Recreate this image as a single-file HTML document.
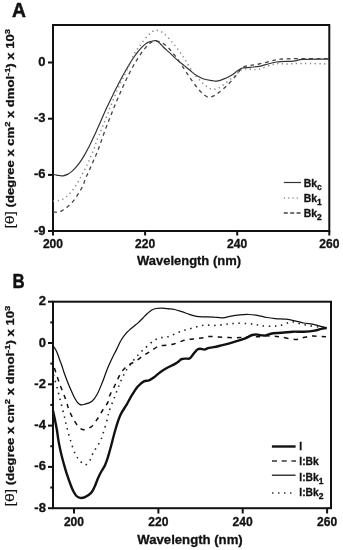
<!DOCTYPE html>
<html><head><meta charset="utf-8"><title>CD spectra</title>
<style>
html,body{margin:0;padding:0;background:#fff;}
body{width:343px;height:550px;overflow:hidden;font-family:"Liberation Sans", sans-serif;}
svg{display:block;will-change:transform;}
</style></head><body>
<svg width="343" height="550" viewBox="0 0 343 550">
<g font-family='"Liberation Sans", sans-serif' fill="#111">
<text x="12" y="17.4" font-size="19.3" font-weight="bold" stroke="#111" stroke-width="0.5">A</text>
<text transform="translate(12.4 287.8) scale(0.85 1)" x="0" y="0" font-size="19.8" font-weight="bold" stroke="#111" stroke-width="0.5">B</text>
<g stroke="#111" stroke-width="2" fill="none">
<rect x="53" y="25" width="276.3" height="206"/>
<line x1="48" y1="62.5" x2="53" y2="62.5"/>
<line x1="48" y1="118.7" x2="53" y2="118.7"/>
<line x1="48" y1="174.9" x2="53" y2="174.9"/>
<line x1="48" y1="231" x2="53" y2="231"/>
<line x1="53" y1="231" x2="53" y2="235.5"/>
<line x1="145.1" y1="231" x2="145.1" y2="235.5"/>
<line x1="237.2" y1="231" x2="237.2" y2="235.5"/>
<line x1="329.3" y1="231" x2="329.3" y2="235.5"/>
</g>
<text x="45.6" y="66.0" font-size="13" font-weight="bold" text-anchor="end" stroke="#111" stroke-width="0.3" paint-order="stroke">0</text>
<text x="45.6" y="122.2" font-size="13" font-weight="bold" text-anchor="end" stroke="#111" stroke-width="0.3" paint-order="stroke">-3</text>
<text x="45.6" y="178.4" font-size="13" font-weight="bold" text-anchor="end" stroke="#111" stroke-width="0.3" paint-order="stroke">-6</text>
<text x="45.6" y="234.5" font-size="13" font-weight="bold" text-anchor="end" stroke="#111" stroke-width="0.3" paint-order="stroke">-9</text>
<text x="53" y="248" font-size="13" font-weight="bold" text-anchor="middle" textLength="20.2" lengthAdjust="spacingAndGlyphs" stroke="#111" stroke-width="0.3" paint-order="stroke">200</text>
<text x="145.1" y="248" font-size="13" font-weight="bold" text-anchor="middle" textLength="20.2" lengthAdjust="spacingAndGlyphs" stroke="#111" stroke-width="0.3" paint-order="stroke">220</text>
<text x="237.2" y="248" font-size="13" font-weight="bold" text-anchor="middle" textLength="20.2" lengthAdjust="spacingAndGlyphs" stroke="#111" stroke-width="0.3" paint-order="stroke">240</text>
<text x="329.3" y="248" font-size="13" font-weight="bold" text-anchor="middle" textLength="20.2" lengthAdjust="spacingAndGlyphs" stroke="#111" stroke-width="0.3" paint-order="stroke">260</text>
<text x="189" y="265.2" font-size="12.8" font-weight="bold" text-anchor="middle" textLength="104" lengthAdjust="spacingAndGlyphs" stroke="#111" stroke-width="0.3" paint-order="stroke">Wavelength (nm)</text>
<text transform="translate(14.3 128.8) rotate(-90)" text-anchor="middle" font-size="11.2" font-weight="bold" textLength="199.5" lengthAdjust="spacingAndGlyphs" stroke="#111" stroke-width="0.3" paint-order="stroke"><tspan font-weight="normal" stroke-width="0.15" font-size="13.5">[&#952;]</tspan> (degree x cm<tspan font-size="8" dy="-4">2</tspan><tspan dy="4"> x dmol</tspan><tspan font-size="8" dy="-4">-1</tspan><tspan dy="4">) x 10</tspan><tspan font-size="8" dy="-4">3</tspan></text>
<g stroke="#111" stroke-width="2" fill="none">
<rect x="53" y="301.7" width="278" height="206.5"/>
<line x1="48" y1="301.7" x2="53" y2="301.7"/>
<line x1="50.3" y1="322.4" x2="53" y2="322.4"/>
<line x1="48" y1="343.0" x2="53" y2="343.0"/>
<line x1="50.3" y1="363.6" x2="53" y2="363.6"/>
<line x1="48" y1="384.3" x2="53" y2="384.3"/>
<line x1="50.3" y1="404.9" x2="53" y2="404.9"/>
<line x1="48" y1="425.6" x2="53" y2="425.6"/>
<line x1="50.3" y1="446.2" x2="53" y2="446.2"/>
<line x1="48" y1="466.9" x2="53" y2="466.9"/>
<line x1="50.3" y1="487.5" x2="53" y2="487.5"/>
<line x1="48" y1="508.2" x2="53" y2="508.2"/>
<line x1="74.0" y1="508.2" x2="74.0" y2="513.5"/>
<line x1="158.4" y1="508.2" x2="158.4" y2="513.5"/>
<line x1="242.7" y1="508.2" x2="242.7" y2="513.5"/>
<line x1="327.1" y1="508.2" x2="327.1" y2="513.5"/>
</g>
<text x="45.9" y="305.2" font-size="13" font-weight="bold" text-anchor="end" stroke="#111" stroke-width="0.3" paint-order="stroke">2</text>
<text x="45.9" y="346.5" font-size="13" font-weight="bold" text-anchor="end" stroke="#111" stroke-width="0.3" paint-order="stroke">0</text>
<text x="45.9" y="387.8" font-size="13" font-weight="bold" text-anchor="end" stroke="#111" stroke-width="0.3" paint-order="stroke">-2</text>
<text x="45.9" y="429.1" font-size="13" font-weight="bold" text-anchor="end" stroke="#111" stroke-width="0.3" paint-order="stroke">-4</text>
<text x="45.9" y="470.4" font-size="13" font-weight="bold" text-anchor="end" stroke="#111" stroke-width="0.3" paint-order="stroke">-6</text>
<text x="45.9" y="511.7" font-size="13" font-weight="bold" text-anchor="end" stroke="#111" stroke-width="0.3" paint-order="stroke">-8</text>
<text x="74.0" y="526.2" font-size="13" font-weight="bold" text-anchor="middle" textLength="20.2" lengthAdjust="spacingAndGlyphs" stroke="#111" stroke-width="0.3" paint-order="stroke">200</text>
<text x="158.4" y="526.2" font-size="13" font-weight="bold" text-anchor="middle" textLength="20.2" lengthAdjust="spacingAndGlyphs" stroke="#111" stroke-width="0.3" paint-order="stroke">220</text>
<text x="242.7" y="526.2" font-size="13" font-weight="bold" text-anchor="middle" textLength="20.2" lengthAdjust="spacingAndGlyphs" stroke="#111" stroke-width="0.3" paint-order="stroke">240</text>
<text x="327.1" y="526.2" font-size="13" font-weight="bold" text-anchor="middle" textLength="20.2" lengthAdjust="spacingAndGlyphs" stroke="#111" stroke-width="0.3" paint-order="stroke">260</text>
<text x="190" y="543.9" font-size="12.8" font-weight="bold" text-anchor="middle" textLength="105.5" lengthAdjust="spacingAndGlyphs" stroke="#111" stroke-width="0.3" paint-order="stroke">Wavelength (nm)</text>
<text transform="translate(14.3 406.1) rotate(-90)" text-anchor="middle" font-size="11.2" font-weight="bold" textLength="200.8" lengthAdjust="spacingAndGlyphs" stroke="#111" stroke-width="0.3" paint-order="stroke"><tspan font-weight="normal" stroke-width="0.15" font-size="13.5">[&#952;]</tspan> (degree x cm<tspan font-size="8" dy="-4">2</tspan><tspan dy="4"> x dmol</tspan><tspan font-size="8" dy="-4">-1</tspan><tspan dy="4">) x 10</tspan><tspan font-size="8" dy="-4">3</tspan></text>
<path d="M53.0 174.0 C53.5 174.2 55.0 174.8 56.0 175.0 C57.0 175.2 57.8 175.4 59.0 175.5 C60.2 175.6 61.6 176.0 63.0 175.8 C64.4 175.6 66.0 175.1 67.4 174.4 C68.8 173.7 70.2 172.8 71.6 171.6 C73.0 170.4 74.6 168.7 76.0 167.1 C77.4 165.5 78.7 164.0 80.0 162.1 C81.3 160.2 82.7 158.2 84.0 155.9 C85.3 153.7 86.7 151.2 88.0 148.6 C89.3 146.0 90.7 143.3 92.0 140.5 C93.3 137.7 94.7 134.8 96.0 131.9 C97.3 129.0 98.5 126.4 100.0 123.0 C101.5 119.6 103.5 114.8 105.0 111.5 C106.5 108.2 107.7 105.8 109.0 103.0 C110.3 100.2 111.7 97.4 113.0 94.7 C114.3 92.0 115.7 89.3 117.0 86.7 C118.3 84.1 119.7 81.5 121.0 79.0 C122.3 76.5 123.7 74.0 125.0 71.7 C126.3 69.4 127.7 67.1 129.0 64.9 C130.3 62.7 131.7 60.5 133.0 58.5 C134.3 56.5 135.7 54.6 137.0 52.9 C138.3 51.2 139.7 49.5 141.0 48.1 C142.3 46.7 143.8 45.4 145.0 44.4 C146.2 43.4 146.8 43.0 148.0 42.4 C149.2 41.8 151.2 41.3 152.5 41.0 C153.8 40.7 154.8 40.5 155.8 40.7 C156.8 40.9 157.6 41.5 158.6 42.2 C159.6 43.0 160.8 44.3 161.7 45.2 C162.6 46.1 162.7 46.6 164.0 47.8 C165.3 49.0 167.8 51.1 169.5 52.6 C171.2 54.1 172.4 55.5 173.9 56.9 C175.4 58.3 176.6 59.5 178.3 60.9 C180.0 62.3 182.2 64.0 184.2 65.6 C186.1 67.1 188.2 68.7 190.0 70.2 C191.8 71.7 192.7 73.1 195.0 74.6 C197.3 76.1 200.8 78.0 203.7 79.0 C206.6 80.0 210.3 80.4 212.5 80.7 C214.7 81.0 215.1 81.4 217.0 81.1 C218.9 80.8 221.7 79.9 224.0 78.9 C226.3 78.0 228.7 76.8 231.0 75.4 C233.3 74.0 236.1 71.8 238.0 70.6 C239.9 69.4 240.4 68.5 242.4 68.0 C244.4 67.5 247.4 67.6 250.2 67.3 C253.0 67.0 256.5 66.8 259.0 66.4 C261.5 66.0 262.1 65.6 265.0 64.9 C267.9 64.2 271.7 62.6 276.4 62.0 C281.1 61.4 289.0 61.5 293.4 61.1 C297.8 60.7 297.0 59.7 302.9 59.4 C308.8 59.1 324.6 59.2 329.0 59.2" fill="none" stroke="#333" stroke-width="1.2"/>
<path d="M53.0 201.2 C53.9 201.1 56.9 200.9 58.5 200.6 C60.1 200.2 61.5 199.8 62.9 199.1 C64.3 198.4 65.5 197.6 66.8 196.5 C68.1 195.4 69.5 193.9 70.7 192.6 C71.9 191.3 72.8 190.0 73.8 188.5 C74.8 187.0 76.1 185.3 77.0 183.8 C77.9 182.3 78.6 181.0 79.4 179.6 C80.2 178.2 80.9 176.8 81.6 175.4 C82.3 174.1 83.0 172.9 83.7 171.5 C84.4 170.1 85.2 168.5 85.9 167.1 C86.6 165.7 87.2 164.6 87.9 163.2 C88.6 161.8 89.3 160.3 89.9 158.8 C90.5 157.3 91.0 155.8 91.6 154.4 C92.2 153.0 92.8 151.9 93.4 150.5 C94.0 149.1 94.6 147.6 95.1 146.1 C95.6 144.6 95.6 143.9 96.4 141.7 C97.2 139.5 98.7 136.1 100.0 133.0 C101.3 129.9 102.7 126.3 104.0 123.0 C105.3 119.7 106.7 116.3 108.0 113.0 C109.3 109.7 110.5 106.8 112.0 103.0 C113.5 99.2 115.5 94.0 117.2 90.0 C119.0 86.0 120.5 83.1 122.5 79.0 C124.5 74.9 127.0 69.8 129.0 65.5 C131.0 61.2 132.9 56.3 134.5 53.3 C136.1 50.3 137.2 49.5 138.5 47.6 C139.8 45.7 141.0 43.9 142.5 42.0 C144.0 40.1 146.0 37.6 147.5 36.0 C149.0 34.4 150.2 33.1 151.5 32.2 C152.8 31.3 154.2 30.6 155.5 30.4 C156.8 30.2 158.1 30.4 159.5 31.0 C160.9 31.6 162.2 32.0 164.2 33.7 C166.2 35.4 168.9 38.5 171.4 41.4 C173.9 44.3 176.7 47.6 179.2 51.0 C181.7 54.4 183.9 57.9 186.2 61.5 C188.5 65.2 190.9 69.7 193.2 72.9 C195.5 76.1 197.9 78.4 200.2 80.7 C202.5 83.0 205.1 85.4 207.2 86.8 C209.2 88.2 210.6 89.1 212.5 89.3 C214.4 89.5 216.2 89.3 218.7 88.0 C221.2 86.7 224.6 83.8 227.5 81.5 C230.4 79.2 233.7 76.5 236.2 74.5 C238.7 72.5 240.1 70.1 242.4 69.2 C244.7 68.3 247.4 69.2 250.2 69.2 C253.0 69.2 254.9 70.1 259.0 69.2 C263.1 68.3 269.7 64.9 274.5 64.0 C279.3 63.1 283.0 64.1 287.7 64.0 C292.4 63.9 296.0 63.4 302.9 63.4 C309.8 63.4 324.6 63.9 329.0 64.0" fill="none" stroke="#888" stroke-width="1.5" stroke-dasharray="1.3 3.4" />
<path d="M53.0 212.1 C54.0 212.1 57.0 212.3 58.7 212.0 C60.4 211.7 61.5 210.9 63.0 210.0 C64.5 209.1 66.0 208.1 67.5 206.8 C69.0 205.6 70.5 204.1 72.0 202.5 C73.5 200.9 74.9 199.1 76.2 197.2 C77.5 195.3 78.8 193.0 80.0 191.0 C81.2 189.0 82.3 187.1 83.2 185.0 C84.1 182.9 84.6 180.7 85.5 178.5 C86.4 176.3 87.6 174.2 88.6 171.9 C89.6 169.6 90.6 167.2 91.6 164.9 C92.6 162.6 93.7 160.2 94.7 157.9 C95.7 155.6 96.8 153.3 97.7 150.9 C98.7 148.5 99.2 146.9 100.4 143.5 C101.6 140.1 103.6 134.3 105.0 130.4 C106.4 126.5 107.7 123.5 109.0 120.1 C110.3 116.7 111.7 113.3 113.0 110.0 C114.3 106.7 115.7 103.5 117.0 100.3 C118.3 97.1 119.7 94.0 121.0 91.0 C122.3 88.0 123.7 85.0 125.0 82.2 C126.3 79.4 127.7 76.6 129.0 74.0 C130.3 71.4 131.7 68.9 133.0 66.5 C134.3 64.1 135.7 61.9 137.0 59.7 C138.3 57.6 139.7 55.5 141.0 53.6 C142.3 51.7 143.7 49.9 145.0 48.3 C146.3 46.7 147.8 45.0 149.0 43.9 C150.2 42.8 150.9 42.3 152.0 41.8 C153.1 41.3 154.4 41.1 155.5 41.0 C156.6 40.9 157.6 41.2 158.5 41.4 C159.4 41.6 160.2 41.9 161.0 42.3 C161.8 42.7 162.5 42.9 163.4 43.6 C164.3 44.3 165.6 45.3 166.7 46.3 C167.8 47.3 168.8 48.3 169.9 49.5 C171.0 50.7 171.7 51.7 173.0 53.3 C174.3 54.9 175.6 56.2 177.5 58.9 C179.4 61.6 182.5 66.4 184.5 69.5 C186.5 72.6 187.9 74.6 189.7 77.3 C191.5 80.0 193.6 83.0 195.5 85.5 C197.4 88.0 199.2 90.3 201.3 92.3 C203.4 94.2 206.0 96.7 208.3 97.2 C210.6 97.7 213.3 96.1 215.2 95.2 C217.1 94.3 217.4 93.7 219.5 92.0 C221.6 90.3 224.7 87.8 227.5 85.0 C230.3 82.2 233.7 78.3 236.2 75.4 C238.7 72.5 240.1 69.2 242.4 67.5 C244.7 65.8 247.4 66.0 250.2 65.4 C253.0 64.8 255.6 64.7 259.0 64.0 C262.4 63.3 267.2 61.9 270.7 61.1 C274.2 60.3 275.5 59.6 280.2 59.2 C284.9 58.8 290.9 58.7 299.0 58.6 C307.1 58.5 324.0 58.6 329.0 58.6" fill="none" stroke="#444" stroke-width="1.3" stroke-dasharray="3.8 3.6"/>
<path d="M53.0 346.0 C53.3 346.4 54.3 347.4 55.0 348.5 C55.7 349.6 56.2 350.7 57.0 352.5 C57.8 354.3 58.8 357.2 59.6 359.5 C60.4 361.8 61.2 363.7 62.0 366.0 C62.8 368.3 63.2 370.2 64.4 373.5 C65.6 376.8 67.5 382.0 69.2 386.0 C70.9 390.0 72.8 394.6 74.5 397.7 C76.2 400.8 78.0 403.3 79.7 404.4 C81.5 405.5 83.0 404.7 85.0 404.2 C87.0 403.7 90.0 402.9 92.0 401.2 C94.0 399.5 95.5 397.4 97.2 394.2 C99.0 391.0 100.8 386.1 102.5 382.0 C104.2 377.9 105.5 373.3 107.1 369.4 C108.7 365.5 110.4 361.8 112.0 358.5 C113.6 355.2 115.0 352.6 116.5 349.6 C118.0 346.7 119.3 343.4 120.8 340.8 C122.2 338.2 123.7 336.1 125.2 334.3 C126.7 332.5 128.1 331.2 129.6 329.9 C131.1 328.5 132.6 327.4 134.0 326.2 C135.4 325.0 136.9 323.9 138.3 322.6 C139.8 321.3 141.2 319.7 142.7 318.2 C144.2 316.7 145.6 315.1 147.1 313.8 C148.6 312.5 149.9 311.1 151.4 310.2 C152.9 309.3 154.1 308.9 155.8 308.5 C157.5 308.1 159.7 308.0 161.6 308.0 C163.5 308.0 165.1 308.4 167.3 308.6 C169.5 308.9 172.2 309.0 174.6 309.5 C177.0 310.0 179.5 310.9 181.9 311.7 C184.3 312.5 186.8 313.5 189.2 314.3 C191.6 315.1 194.0 315.9 196.4 316.3 C198.8 316.7 200.8 316.7 203.7 316.8 C206.6 316.9 210.6 316.9 213.7 317.1 C216.8 317.3 219.6 318.0 222.5 317.8 C225.4 317.6 228.3 316.6 231.2 316.1 C234.1 315.6 237.1 315.2 240.0 314.9 C242.9 314.6 245.8 314.4 248.7 314.5 C251.6 314.6 254.5 314.9 257.5 315.4 C260.5 315.9 263.6 317.0 266.6 317.5 C269.6 318.0 272.0 318.3 275.3 318.6 C278.6 318.9 282.9 318.8 286.2 319.2 C289.5 319.6 292.1 320.2 295.0 320.8 C297.9 321.4 300.8 322.4 303.7 323.0 C306.6 323.6 309.9 323.6 312.5 324.1 C315.1 324.6 316.6 325.2 319.0 325.8 C321.4 326.4 325.4 327.5 326.7 327.8" fill="none" stroke="#111" stroke-width="1.25"/>
<path d="M53.5 375.0 C54.2 377.6 56.6 385.8 57.9 390.7 C59.2 395.6 60.2 400.0 61.4 404.7 C62.6 409.4 63.9 414.5 64.9 418.7 C65.9 422.9 66.5 425.8 67.5 429.7 C68.5 433.6 69.7 437.9 71.0 442.0 C72.3 446.1 74.0 451.2 75.4 454.2 C76.8 457.2 77.6 458.0 79.2 459.8 C80.8 461.6 83.2 464.9 85.0 465.0 C86.8 465.1 88.7 462.0 90.0 460.2 C91.3 458.4 91.7 455.9 92.6 454.0 C93.5 452.1 94.2 451.3 95.5 449.0 C96.8 446.7 99.2 443.4 100.7 440.2 C102.2 437.0 103.0 433.5 104.2 429.7 C105.4 425.9 106.9 420.6 107.7 417.5 C108.5 414.4 108.1 414.3 109.2 411.0 C110.3 407.7 112.6 402.2 114.3 397.8 C116.0 393.4 117.7 388.6 119.4 384.5 C121.1 380.4 123.0 376.2 124.5 373.3 C126.0 370.4 127.0 369.2 128.6 367.0 C130.2 364.8 132.1 362.2 133.8 360.0 C135.5 357.8 137.3 355.8 139.0 354.0 C140.7 352.2 142.3 350.7 144.1 349.0 C145.9 347.3 148.0 345.4 149.9 343.8 C151.8 342.2 153.8 340.5 155.7 339.5 C157.6 338.5 159.6 338.0 161.5 337.6 C163.4 337.2 165.5 337.5 167.4 337.0 C169.3 336.5 171.3 335.5 173.1 334.7 C174.9 333.9 176.5 333.1 178.2 332.4 C179.9 331.7 181.6 331.1 183.3 330.6 C185.0 330.1 186.6 329.7 188.4 329.2 C190.2 328.7 192.4 327.9 194.3 327.4 C196.2 326.9 198.2 326.4 200.1 326.0 C202.0 325.6 203.3 325.2 205.9 325.1 C208.5 325.0 211.9 325.6 215.5 325.4 C219.1 325.2 224.2 324.5 227.7 324.1 C231.2 323.8 233.3 323.4 236.5 323.3 C239.7 323.2 243.8 323.4 247.0 323.6 C250.2 323.8 253.1 324.1 255.7 324.5 C258.3 324.9 259.8 325.6 262.7 325.9 C265.6 326.2 269.9 326.3 273.1 326.2 C276.3 326.1 278.8 325.8 281.9 325.1 C285.0 324.4 288.4 322.1 291.7 321.9 C295.0 321.7 298.0 323.4 301.5 324.1 C305.0 324.8 309.2 325.7 312.5 326.2 C315.8 326.7 318.8 327.0 321.2 327.3 C323.6 327.6 325.8 327.9 326.7 328.0" fill="none" stroke="#222" stroke-width="1.6" stroke-dasharray="1.5 4.6" />
<path d="M54.4 368.0 C55.3 370.6 57.7 378.4 59.6 383.7 C61.5 388.9 64.1 395.0 65.7 399.5 C67.3 404.0 67.7 406.9 69.2 410.5 C70.7 414.1 72.8 418.1 74.5 421.0 C76.2 423.9 78.0 426.6 79.7 428.0 C81.5 429.4 83.0 430.0 85.0 429.7 C87.0 429.4 90.0 427.9 92.0 426.2 C94.0 424.4 95.5 421.8 97.2 419.2 C99.0 416.6 100.8 413.3 102.5 410.5 C104.2 407.7 106.6 404.9 107.7 402.6 C108.8 400.3 107.9 399.7 109.2 396.7 C110.5 393.7 113.3 388.6 115.3 384.5 C117.3 380.4 119.2 375.4 121.4 372.2 C123.6 369.0 126.2 366.9 128.6 365.1 C131.0 363.3 133.3 362.7 135.7 361.2 C138.1 359.7 140.5 357.6 142.9 356.0 C145.3 354.4 147.6 353.0 150.0 351.5 C152.4 350.0 155.4 347.8 157.1 346.9 C158.8 345.9 158.3 346.1 160.0 345.8 C161.7 345.5 164.9 345.6 167.3 345.2 C169.7 344.8 172.2 344.4 174.6 343.7 C177.0 343.0 179.5 341.8 181.9 341.1 C184.3 340.4 186.8 339.8 189.2 339.4 C191.6 339.0 194.0 338.9 196.4 338.6 C198.8 338.3 201.4 338.0 203.7 337.6 C206.0 337.2 207.6 336.5 210.2 336.4 C212.8 336.3 215.8 336.9 219.0 337.1 C222.2 337.3 226.0 337.5 229.5 337.6 C233.0 337.7 236.8 337.8 240.0 337.6 C243.2 337.4 245.8 336.5 248.7 336.4 C251.6 336.2 254.9 336.8 257.5 336.7 C260.1 336.6 261.9 336.0 264.5 335.9 C267.1 335.8 270.2 335.9 273.1 336.1 C276.0 336.3 278.2 336.6 281.9 337.2 C285.5 337.8 291.4 339.3 295.0 339.4 C298.6 339.5 300.8 338.2 303.7 337.6 C306.6 337.1 308.8 336.2 312.5 336.1 C316.2 336.0 323.8 336.6 326.0 336.7" fill="none" stroke="#111" stroke-width="1.5" stroke-dasharray="4.5 5"/>
<path d="M53.0 410.5 C53.3 412.1 54.4 416.8 55.0 420.0 C55.6 423.2 56.3 426.5 56.9 430.0 C57.5 433.5 57.9 437.3 58.5 440.9 C59.1 444.5 59.9 448.2 60.7 451.8 C61.5 455.4 62.5 459.1 63.5 462.7 C64.5 466.3 65.5 470.0 66.7 473.6 C67.9 477.2 69.4 481.5 70.5 484.5 C71.6 487.5 72.5 489.6 73.5 491.5 C74.5 493.4 75.4 494.9 76.5 496.0 C77.6 497.1 78.8 497.7 80.2 497.9 C81.6 498.1 83.2 497.9 85.0 497.1 C86.8 496.3 89.5 494.6 91.1 492.9 C92.7 491.2 93.4 489.2 94.6 486.7 C95.8 484.2 96.9 480.6 98.1 478.0 C99.3 475.4 100.4 473.2 101.6 471.0 C102.8 468.8 104.1 467.1 105.1 464.9 C106.1 462.7 106.9 460.4 107.7 457.9 C108.5 455.4 108.7 454.6 110.0 450.0 C111.3 445.4 113.6 435.8 115.3 430.0 C117.0 424.2 118.5 419.3 120.4 415.1 C122.3 410.9 124.6 408.1 126.5 404.9 C128.4 401.7 129.7 398.8 131.6 395.7 C133.5 392.6 135.8 388.9 137.8 386.5 C139.9 384.1 142.0 382.4 143.9 381.4 C145.8 380.4 147.3 381.1 149.0 380.4 C150.7 379.7 152.2 378.7 154.1 377.3 C156.0 375.9 158.0 373.8 160.2 372.2 C162.4 370.6 164.9 369.1 167.3 367.8 C169.7 366.5 172.7 365.2 174.6 364.1 C176.5 363.0 177.8 362.1 179.0 361.2 C180.2 360.3 180.7 359.4 181.9 359.0 C183.1 358.6 184.9 358.7 186.2 358.6 C187.5 358.5 188.7 359.1 189.9 358.3 C191.1 357.5 192.3 355.3 193.5 353.9 C194.7 352.4 196.1 350.5 197.2 349.6 C198.3 348.8 198.9 348.8 200.1 348.8 C201.3 348.8 203.2 349.7 204.5 349.6 C205.8 349.5 206.6 348.5 208.1 348.1 C209.6 347.7 211.3 347.7 213.7 347.2 C216.1 346.7 219.6 345.8 222.5 345.1 C225.4 344.4 228.3 343.7 231.2 342.9 C234.1 342.1 237.4 341.1 240.0 340.2 C242.6 339.3 245.0 338.5 247.0 337.6 C249.0 336.7 250.4 335.5 252.2 335.0 C253.9 334.5 255.8 334.5 257.5 334.6 C259.2 334.7 261.4 335.3 262.7 335.4 C264.0 335.5 263.8 335.8 265.5 335.4 C267.2 335.0 270.4 333.6 273.1 333.2 C275.8 332.8 278.6 333.1 281.9 332.8 C285.2 332.6 289.2 331.9 292.8 331.7 C296.4 331.5 300.1 331.9 303.7 331.7 C307.3 331.5 311.8 331.1 314.7 330.6 C317.6 330.1 319.2 329.3 321.2 328.9 C323.2 328.5 325.8 328.1 326.7 328.0" fill="none" stroke="#111" stroke-width="2.4" stroke-linejoin="round"/>
<line x1="283.8" y1="182.5" x2="301" y2="182.5" stroke="#333" stroke-width="1.2"/>
<line x1="283.8" y1="198" x2="301" y2="198" stroke="#999" stroke-width="1.4" stroke-dasharray="1.3 3"/>
<line x1="283.8" y1="213" x2="301" y2="213" stroke="#444" stroke-width="1.3" stroke-dasharray="4 2.4"/>
<text x="303.8" y="186.5" font-size="10.4" font-weight="bold" stroke="#111" stroke-width="0.3" paint-order="stroke">Bk<tspan font-size="8.5" dy="3">c</tspan></text>
<text x="303.8" y="202" font-size="10.4" font-weight="bold" stroke="#111" stroke-width="0.3" paint-order="stroke">Bk<tspan font-size="8.5" dy="3">1</tspan></text>
<text x="303.8" y="217" font-size="10.4" font-weight="bold" stroke="#111" stroke-width="0.3" paint-order="stroke">Bk<tspan font-size="8.5" dy="3">2</tspan></text>
<line x1="271.9" y1="446.5" x2="295.6" y2="446.5" stroke="#111" stroke-width="2.4"/>
<line x1="272" y1="461.1" x2="296" y2="461.1" stroke="#333" stroke-width="1.5" stroke-dasharray="5 4.7"/>
<line x1="271.9" y1="475.2" x2="295.6" y2="475.2" stroke="#111" stroke-width="1.25"/>
<line x1="272" y1="493" x2="295.6" y2="493" stroke="#333" stroke-width="1.5" stroke-dasharray="1.5 4.5"/>
<text x="299.3" y="449.8" font-size="10.3" font-weight="bold" stroke="#111" stroke-width="0.3" paint-order="stroke">I</text>
<text x="299.3" y="464.6" font-size="10.3" font-weight="bold" stroke="#111" stroke-width="0.3" paint-order="stroke">I:Bk</text>
<text x="299.3" y="480.6" font-size="10.3" font-weight="bold" stroke="#111" stroke-width="0.3" paint-order="stroke">I:Bk<tspan font-size="8.5" dy="3">1</tspan></text>
<text x="299.3" y="496.0" font-size="10.3" font-weight="bold" stroke="#111" stroke-width="0.3" paint-order="stroke">I:Bk<tspan font-size="8.5" dy="3">2</tspan></text>
</g></svg>
</body></html>
